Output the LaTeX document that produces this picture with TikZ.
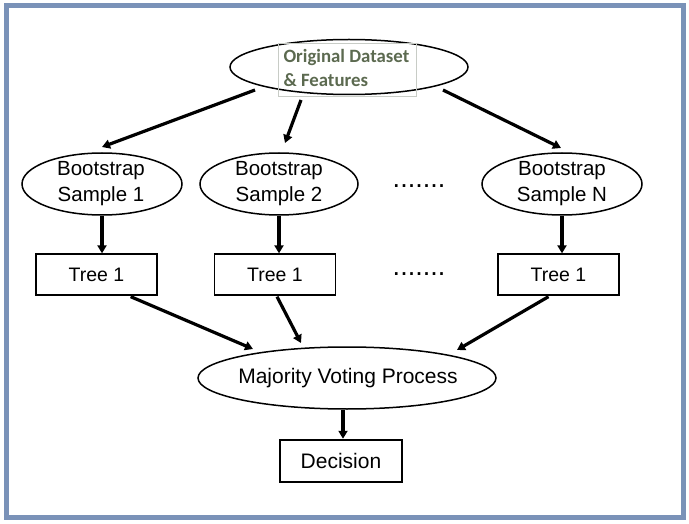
\documentclass[tikz,border=0pt]{standalone}
\usepackage{fontspec}
\setmainfont{Liberation Sans}
\newfontfamily\calib{Carlito}
\usetikzlibrary{shapes.geometric,arrows.meta}
\definecolor{framec}{RGB}{122,146,184}
\definecolor{greentxt}{RGB}{92,106,80}
\definecolor{boxgray}{RGB}{200,204,198}
\tikzset{
  ell/.style={draw, ellipse, line width=1.5pt, inner sep=0pt},
  treebox/.style={draw, rectangle, line width=1.3pt, minimum width=121pt, minimum height=41pt, font=\fontsize{19.5}{22}\selectfont},
  conn/.style={line width=3.2pt, -{Triangle[length=8pt,width=9pt]}},
  lbl/.style={font=\fontsize{20.5}{26}\selectfont, align=center},
  dotsl/.style={font=\fontsize{27}{30}\selectfont, anchor=base}
}
\begin{document}
\begin{tikzpicture}[x=1pt,y=-1pt]
\useasboundingbox (0,0) rectangle (689,524);
\draw[framec, line width=5pt] (6,6) rectangle (683,517.5);

% top ellipse
\node[ell, minimum width=238pt, minimum height=55pt] (top) at (349,67) {};
\node[draw=boxgray, line width=0.6pt, minimum width=138pt, minimum height=53pt, inner sep=0pt] (topbox) at (347,69.5) {};
\node[anchor=west, align=left, text=greentxt, font=\calib\bfseries\fontsize{18.8}{24}\selectfont] (toptext) at (280,68) {Original Dataset\\\& Features};

% bootstrap ellipses
\node[ell, minimum width=160pt, minimum height=62pt] (b1) at (102,184) {};
\node[lbl] (b1t) at (101,184) {Bootstrap\\Sample 1};
\node[ell, minimum width=158pt, minimum height=62pt] (b2) at (279,184) {};
\node[lbl] (b2t) at (279,184) {Bootstrap\\Sample 2};
\node[ell, minimum width=160pt, minimum height=62pt] (bn) at (562,184) {};
\node[lbl] (bnt) at (562,184) {Bootstrap\\Sample N};

\node[dotsl] (dots1) at (419,188) {.......};
\node[dotsl] (dots2) at (419,276) {.......};

% trees
\node[treebox] (t1) at (96.5,274.5) {Tree 1};
\node[treebox] (t2) at (275,274.5) {Tree 1};
\node[treebox] (t3) at (558.5,274.5) {Tree 1};

% majority
\node[ell, minimum width=298pt, minimum height=62pt] (maj) at (347,378) {};
\node[font=\fontsize{21}{24}\selectfont] (majt) at (348,378) {Majority Voting Process};

% decision
\node[draw, line width=1.3pt, minimum width=122pt, minimum height=42pt, font=\fontsize{21}{24}\selectfont] (dec) at (341,461) {Decision};

% connectors
\coordinate (s1) at (255,90);
\coordinate (e1) at (102,147);
\draw[conn] (s1) -- (e1);
\coordinate (s2) at (301,100);
\coordinate (e2) at (285,143);
\draw[conn] (s2) -- (e2);
\coordinate (s3) at (443,90);
\coordinate (e3) at (561,148);
\draw[conn] (s3) -- (e3);

\draw[conn] (b1.south) -- (t1.north -| b1.south);
\draw[conn] (b2.south) -- (t2.north -| b2.south);
\draw[conn] (bn.south) -- (t3.north -| bn.south);

\coordinate (m1) at (253,349);
\coordinate (m2) at (301,343);
\coordinate (m3) at (457,350);
\draw[conn] (t1.south east) ++(-27,1) -- (m1);
\draw[conn] (t2.south) ++(2,1) -- (m2);
\draw[conn] (t3.south) ++(-10,1) -- (m3);

\draw[conn] (maj.south -| dec.north) ++(2,0) coordinate (d0) -- ++(0,29);
\end{tikzpicture}
\end{document}
